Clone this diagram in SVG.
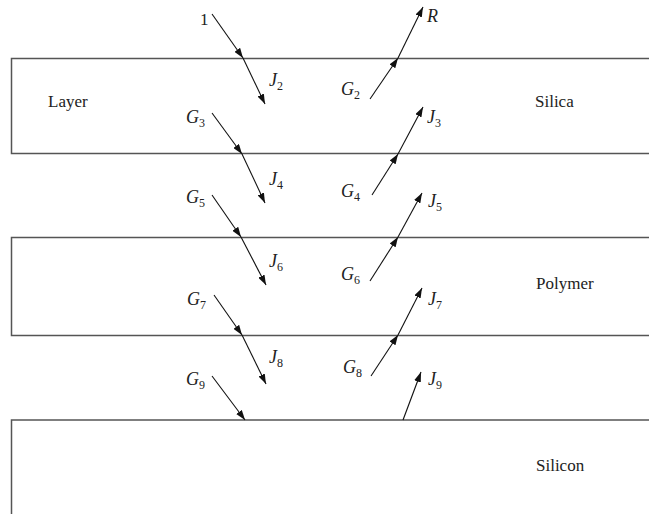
<svg xmlns="http://www.w3.org/2000/svg" width="649" height="514" viewBox="0 0 649 514">
<style>
.bd{fill:none;stroke:#555;stroke-width:1.5}
.ar{fill:none;stroke:#111;stroke-width:1.1;marker-end:url(#ah)}
.lb{font-family:"Liberation Serif",serif;font-size:17px;fill:#222}
.v{font-family:"Liberation Serif",serif;font-style:italic;font-size:18px;fill:#222}
.s{font-size:12px;font-style:normal}
</style>
<defs>
<marker id="ah" markerUnits="userSpaceOnUse" markerWidth="11" markerHeight="7" refX="10" refY="3.5" orient="auto">
<path d="M0,0 L10,3.5 L0,7 z" fill="#111"/>
</marker>
</defs>
<rect width="649" height="514" fill="#fff"/>
<g id="silica">
<path class="bd" d="M649,58.5 H11.5 V153.5 H649"/>
<text class="lb" x="48" y="107">Layer</text>
<text class="lb" x="535" y="107">Silica</text>
</g>
<g id="polymer">
<path class="bd" d="M649,237.5 H11.5 V335.5 H649"/>
<text class="lb" x="536" y="289">Polymer</text>
</g>
<g id="silicon">
<path class="bd" d="M649,420 H11.5 V514"/>
<text class="lb" x="536" y="471">Silicon</text>
</g>
<g id="connectors">
<line class="ar" x1="212" y1="14" x2="243" y2="58"/>
<line class="ar" x1="243" y1="58" x2="265" y2="104"/>
<line class="ar" x1="212" y1="113" x2="242" y2="154"/>
<line class="ar" x1="242" y1="154" x2="265" y2="203"/>
<line class="ar" x1="212" y1="195" x2="241" y2="237"/>
<line class="ar" x1="241" y1="237" x2="266" y2="285"/>
<line class="ar" x1="214" y1="295" x2="242" y2="335"/>
<line class="ar" x1="242" y1="335" x2="266" y2="384"/>
<line class="ar" x1="212" y1="376" x2="245" y2="420"/>
<line class="ar" x1="370" y1="99" x2="398" y2="58"/>
<line class="ar" x1="398" y1="58" x2="423" y2="7"/>
<line class="ar" x1="372" y1="195" x2="398" y2="154"/>
<line class="ar" x1="398" y1="154" x2="423" y2="107"/>
<line class="ar" x1="370" y1="281" x2="398" y2="237"/>
<line class="ar" x1="398" y1="237" x2="422" y2="193"/>
<line class="ar" x1="371" y1="376" x2="398" y2="335"/>
<line class="ar" x1="398" y1="335" x2="422" y2="288"/>
<line class="ar" x1="403" y1="420" x2="421" y2="372"/>
</g>
<g id="labels">
<text class="lb" x="200" y="25">1</text>
<text class="v" x="427" y="22">R</text>
<text class="v" x="269" y="86">J<tspan class="s" dy="4">2</tspan></text>
<text class="v" x="341" y="95">G<tspan class="s" dy="4">2</tspan></text>
<text class="v" x="186" y="123">G<tspan class="s" dy="4">3</tspan></text>
<text class="v" x="427" y="123">J<tspan class="s" dy="4">3</tspan></text>
<text class="v" x="269" y="185">J<tspan class="s" dy="4">4</tspan></text>
<text class="v" x="341" y="197">G<tspan class="s" dy="4">4</tspan></text>
<text class="v" x="186" y="203">G<tspan class="s" dy="4">5</tspan></text>
<text class="v" x="428" y="207">J<tspan class="s" dy="4">5</tspan></text>
<text class="v" x="269" y="267">J<tspan class="s" dy="4">6</tspan></text>
<text class="v" x="341" y="280">G<tspan class="s" dy="4">6</tspan></text>
<text class="v" x="187" y="305">G<tspan class="s" dy="4">7</tspan></text>
<text class="v" x="428" y="305">J<tspan class="s" dy="4">7</tspan></text>
<text class="v" x="269" y="363">J<tspan class="s" dy="4">8</tspan></text>
<text class="v" x="343" y="373">G<tspan class="s" dy="4">8</tspan></text>
<text class="v" x="186" y="385">G<tspan class="s" dy="4">9</tspan></text>
<text class="v" x="428" y="385">J<tspan class="s" dy="4">9</tspan></text>
</g>
</svg>
